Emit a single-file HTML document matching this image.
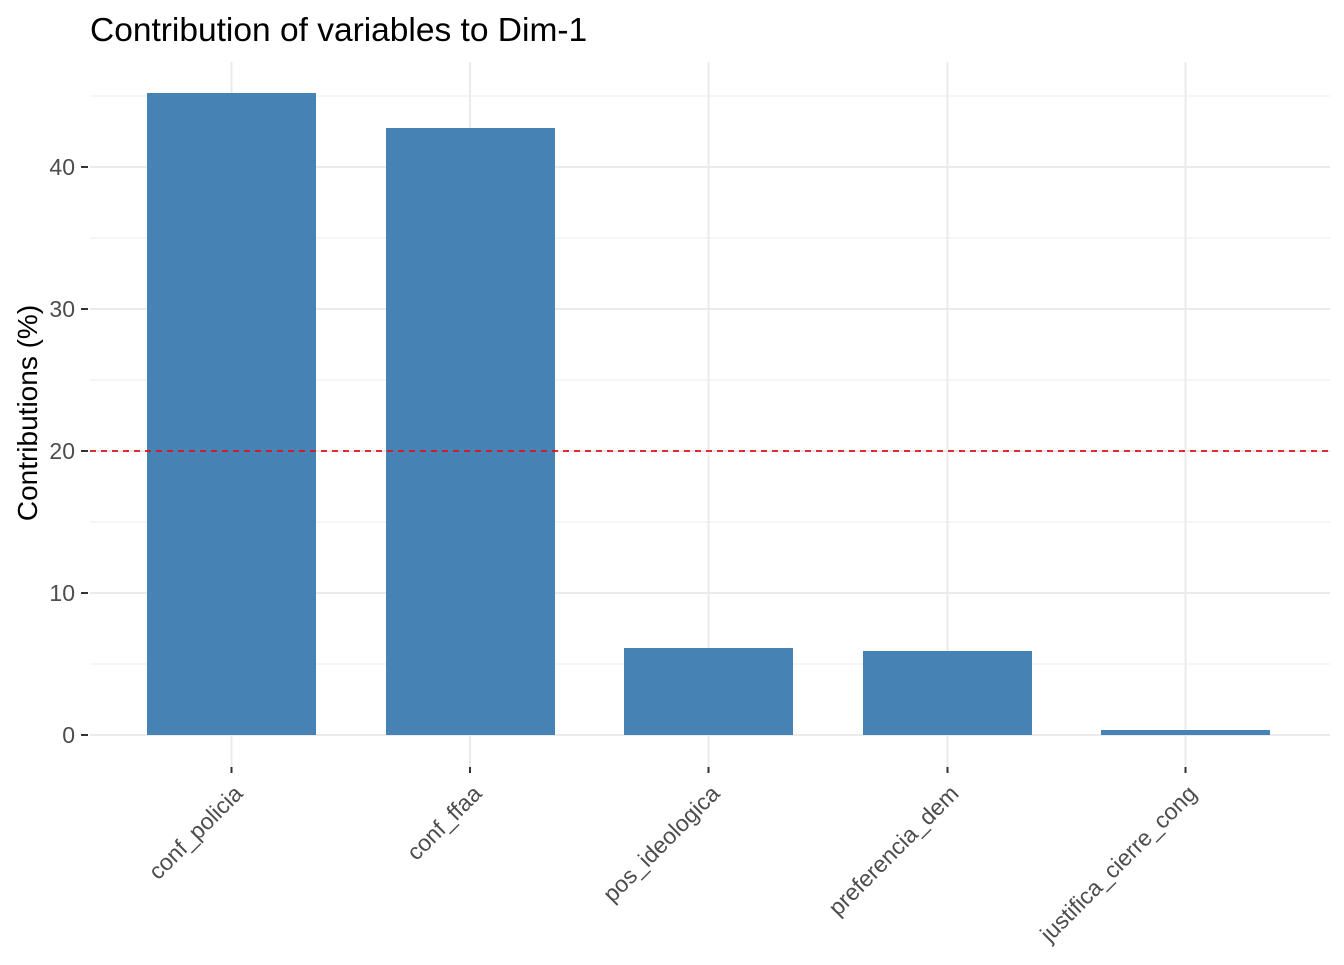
<!DOCTYPE html>
<html><head><style>body{margin:0;background:#fff}</style></head><body>
<svg width="1344" height="960" xmlns="http://www.w3.org/2000/svg" font-family="Liberation Sans, Arial, sans-serif">
<rect width="1344" height="960" fill="#fff"/>
<g stroke="#ebebeb" stroke-width="1">
<line x1="90" x2="1330" y1="96" y2="96"/><line x1="90" x2="1330" y1="238" y2="238"/><line x1="90" x2="1330" y1="380" y2="380"/><line x1="90" x2="1330" y1="522" y2="522"/><line x1="90" x2="1330" y1="664" y2="664"/>
</g>
<g stroke="#ebebeb" stroke-width="2">
<line x1="90" x2="1330" y1="167" y2="167"/><line x1="90" x2="1330" y1="309" y2="309"/><line x1="90" x2="1330" y1="451" y2="451"/><line x1="90" x2="1330" y1="593" y2="593"/><line x1="90" x2="1330" y1="735" y2="735"/>
<line x1="231.5" x2="231.5" y1="62" y2="767"/><line x1="470" x2="470" y1="62" y2="767"/><line x1="708.5" x2="708.5" y1="62" y2="767"/><line x1="947.5" x2="947.5" y1="62" y2="767"/><line x1="1185.5" x2="1185.5" y1="62" y2="767"/>
</g>
<g fill="#4682b4">
<rect x="147" y="93" width="169" height="642"/>
<rect x="386" y="128" width="169" height="607"/>
<rect x="624" y="648" width="169" height="87"/>
<rect x="863" y="651" width="169" height="84"/>
<rect x="1101" y="730" width="169" height="5"/>
</g>
<line x1="90" x2="1330" y1="451" y2="451" stroke="#e0101a" stroke-width="1.8" stroke-dasharray="6,5"/>
<g stroke="#333" stroke-width="2">
<line x1="81" x2="88" y1="167" y2="167"/><line x1="81" x2="88" y1="309" y2="309"/><line x1="81" x2="88" y1="451" y2="451"/><line x1="81" x2="88" y1="593" y2="593"/><line x1="81" x2="88" y1="735" y2="735"/>
<line x1="231.5" x2="231.5" y1="767" y2="773"/><line x1="470" x2="470" y1="767" y2="773"/><line x1="708.5" x2="708.5" y1="767" y2="773"/><line x1="947.5" x2="947.5" y1="767" y2="773"/><line x1="1185.5" x2="1185.5" y1="767" y2="773"/>
</g>
<g fill="#4d4d4d" font-size="23" text-anchor="end">
<text x="75" y="175">40</text><text x="75" y="317">30</text><text x="75" y="459">20</text><text x="75" y="601">10</text><text x="75" y="743">0</text>
</g>
<g fill="#4d4d4d" font-size="23" text-anchor="end">
<text transform="translate(244,795) rotate(-45)">conf_policia</text>
<text transform="translate(483,795) rotate(-45)">conf_ffaa</text>
<text transform="translate(721,795) rotate(-45)">pos_ideologica</text>
<text transform="translate(960,795) rotate(-45)">preferencia_dem</text>
<text transform="translate(1198,795) rotate(-45)">justifica_cierre_cong</text>
</g>
<text transform="translate(37,413) rotate(-90)" text-anchor="middle" font-size="28" fill="#000">Contributions (%)</text>
<text x="90" y="41" font-size="33.5" fill="#000">Contribution of variables to Dim-1</text>
</svg>
</body></html>
